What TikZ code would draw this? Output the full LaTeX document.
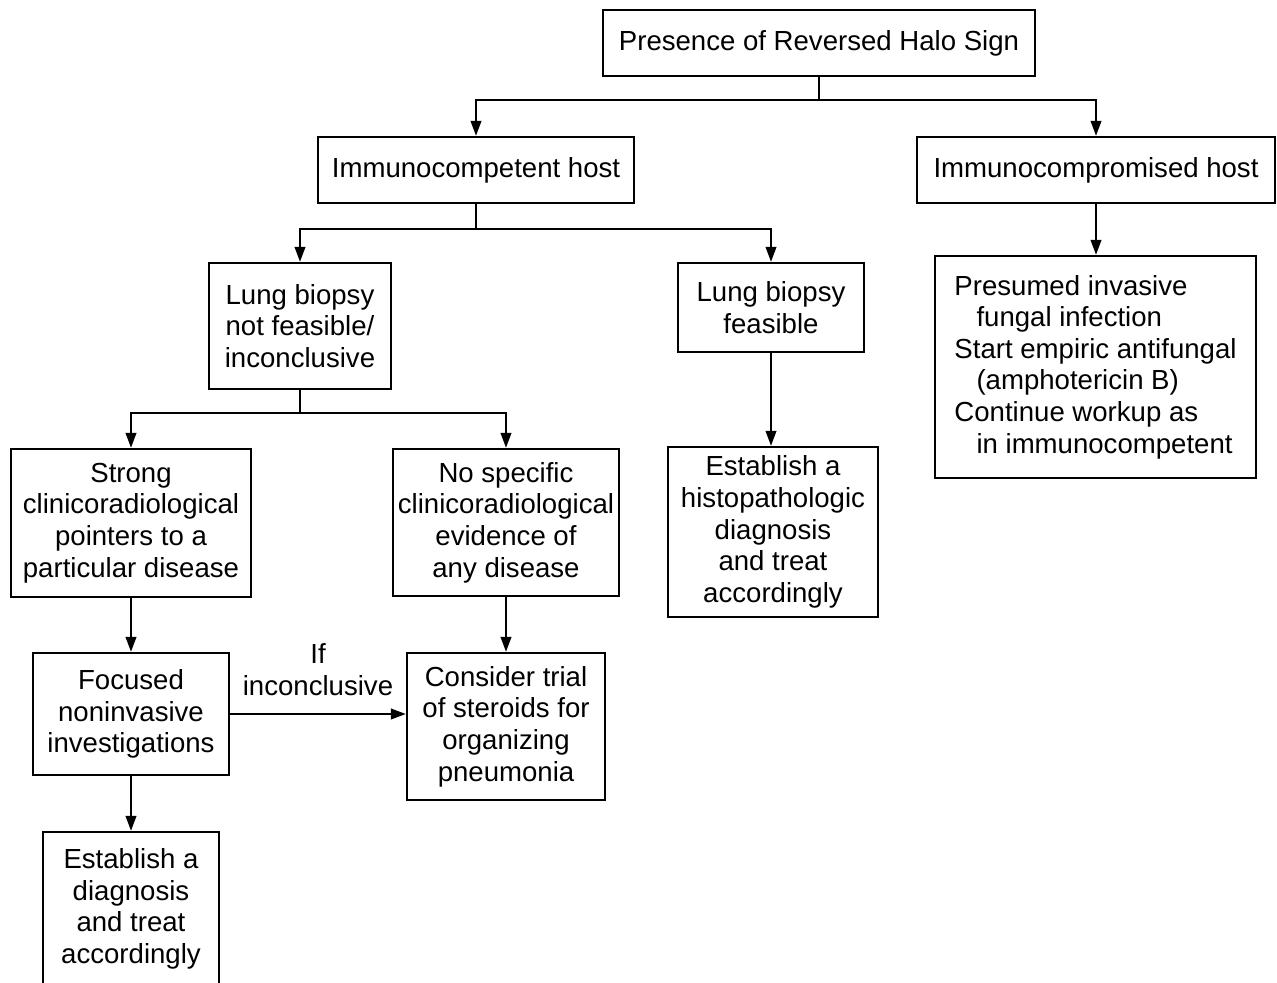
\documentclass[tikz,border=0pt]{standalone}
\usepackage{fontspec}
\setmainfont{Liberation Sans}
\usetikzlibrary{arrows.meta}

\tikzset{
  box/.style={draw, line width=1.3pt, align=center, inner sep=2pt,
    font=\fontsize{15.7}{18}\selectfont},
  arr/.style={line width=1.3pt, -{Triangle[length=3mm, width=2.1mm]}},
  lbl/.style={align=center, font=\fontsize{15.7}{18}\selectfont}
}

\begin{document}
\begin{tikzpicture}[x=0.02cm, y=-0.02cm]
    \useasboundingbox (0,0) rectangle (1277,983);

    % Define nodes
    \node (halo) at (819,43) [box, minimum width=8.64cm, minimum height=1.32cm] {Presence of Reversed Halo Sign};
    \node (comp) at (476,170) [box, minimum width=6.32cm, minimum height=1.32cm] {Immunocompetent host};
    \node (nocomp) at (1096,170) [box, minimum width=7.16cm, minimum height=1.32cm] {Immunocompromised host};
    \node (nobiopsy) at (300,326) [box, minimum width=3.64cm, minimum height=2.52cm] {Lung biopsy\\not feasible/\\inconclusive};
    \node (biopsy) at (771,307.5) [box, minimum width=3.72cm, minimum height=1.78cm] {Lung biopsy\\feasible};
    \node (fungal) at (1095.5,367) [box, align=left, minimum width=6.42cm, minimum height=4.44cm]
        {Presumed invasive\\\hspace*{0.8em}fungal infection\\Start empiric antifungal\\\hspace*{0.8em}(amphotericin B)\\Continue workup as\\\hspace*{0.8em}in immunocompetent};
    \node (strong) at (131,523) [box, minimum width=4.8cm, minimum height=2.96cm] {Strong\\clinicoradiological\\pointers to a\\particular disease};
    \node (nospec) at (506,522.5) [box, minimum width=4.52cm, minimum height=2.94cm] {No specific\\clinicoradiological\\evidence of\\any disease};
    \node (histo) at (773,532) [box, minimum width=4.2cm, minimum height=3.4cm] {Establish a\\histopathologic\\diagnosis\\and treat\\accordingly};
    \node (focus) at (131,714) [box, minimum width=3.92cm, minimum height=2.44cm] {Focused\\noninvasive\\investigations};
    \node (steroid) at (506,726.5) [box, minimum width=3.96cm, minimum height=2.94cm] {Consider trial\\of steroids for\\organizing\\pneumonia};
    \node (diag) at (131,909) [box, minimum width=3.52cm, minimum height=3.08cm] {Establish a\\diagnosis\\and treat\\accordingly};

    % Draw arrows
    \draw[arr] (halo.south) -- ++(0,23) -| (comp);
    \draw[arr] (halo.south) -- ++(0,23) -| (nocomp);
    \draw[arr] (comp.south) -- ++(0,25) -| (nobiopsy);
    \draw[arr] (comp.south) -- ++(0,25) -| (biopsy);
    \draw[arr] (nocomp.south) -- (nocomp.south |- fungal.north);
    \draw[arr] (nobiopsy.south) -- ++(0,23) -| (strong);
    \draw[arr] (nobiopsy.south) -- ++(0,23) -| (nospec);
    \draw[arr] (biopsy.south) -- (biopsy.south |- histo.north);
    \draw[arr] (strong) -- (focus);
    \draw[arr] (nospec) -- (steroid);
    \draw[arr] (focus.east) -- node[lbl, above=6.5pt] {If\\inconclusive} (focus.east -| steroid.west);
    \draw[arr] (focus) -- (diag);
\end{tikzpicture}
\end{document}
